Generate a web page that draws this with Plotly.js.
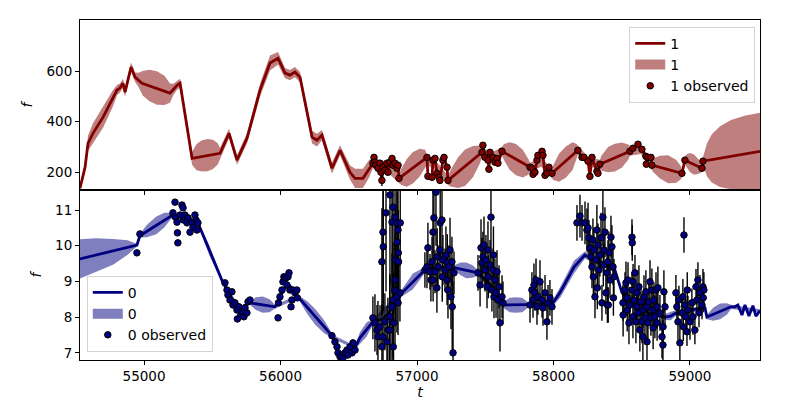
<!DOCTYPE html>
<html>
<head>
<meta charset="utf-8">
<script src="https://cdn.plot.ly/plotly-3.0.1.min.js"></script>
<style>html,body{margin:0;padding:0;background:#fff;}#chart{width:800px;height:400px;}</style>
</head>
<body>
<div id="chart"></div>
<script>
// ---------- axis ticks ----------
const xTickVals = [55000, 56000, 57000, 58000, 59000];
const xTickLabels = ["55000", "56000", "57000", "58000", "59000"];
const topYTicks = [200, 400, 600];
const botYTicks = [7, 8, 9, 10, 11];

// ---------- series "1" (top) ----------
// model mean at prediction-only times
const topPredT = [54531,54568,54590,54626,54700,54773,54802,54824,54846,54861,54905,54934,54985,55190,55242,55264,55352,55557,55623,55681,55755,55850,55923,55982,56033,56069,56106,56143,56231,56267,56304,56377,56436,56509,56546,56604,56670,59513];
const topPredF = [137,220,315,354,418,493,525,533,552,517,616,576,552,513,544,552,255,275,354,248,335,525,632,651,592,584,596,576,339,327,347,216,287,200,176,176,228,283];
// confidence band: time, centre, half width
const topBandT = [54531,54568,54590,54626,54700,54773,54802,54824,54846,54861,54905,54934,54960,54990,55040,55095,55150,55190,55215,55242,55264,55300,55352,55385,55425,55465,55505,55540,55557,55623,55681,55755,55850,55923,55982,56033,56069,56106,56143,56231,56267,56304,56377,56436,56509,56546,56604,56650,56677,56770,56868,56885,56925,56970,57020,57060,57073,57150,57227,57245,57300,57352,57410,57460,57476,57550,57623,57638,57680,57725,57775,57815,57828,57910,57989,58000,58040,58090,58140,58170,58179,58260,58340,58352,58400,58450,58500,58548,58560,58640,58721,58732,58780,58840,58900,58935,58941,58963,58975,59000,59030,59065,59088,59095,59110,59124,59160,59220,59300,59400,59513];
const topBandMid = [137,220,315,354,418,493,525,533,552,517,616,576,565,552,543,533,524,513,528,544,552,440,255,260,265,268,271,273,275,354,248,335,525,632,651,592,584,596,576,339,327,347,216,287,200,176,176,215,236,225,176,182,198,218,238,254,250,220,168,176,198,218,242,270,279,260,283,280,264,250,234,222,220,240,196,200,218,240,264,282,287,240,232,236,250,258,268,280,283,290,228,228,220,212,204,198,196,248,246,238,230,222,216,244,247,249,255,262,270,277,283];
const topBandHalf = [15,20,30,40,42,32,20,18,18,18,18,18,28,48,62,66,58,38,22,18,18,18,25,52,62,64,58,42,22,18,18,20,25,30,25,20,20,20,20,25,25,20,22,20,28,38,38,35,20,18,18,32,55,62,55,35,20,18,18,32,60,72,62,36,20,18,18,32,55,62,55,32,18,18,18,30,55,62,55,30,18,18,18,30,50,55,50,30,18,18,18,28,45,55,45,25,15,15,25,38,40,28,15,15,40,65,95,120,137,147,152];
// observations [t, f, error]
const topObs1 = [[56677,236,8],[56685,259,8],[56692,240,8],[56699,228,8],[56714,216,8],[56729,236,8],[56736,200,8],[56743,168,22],[56751,220,8],[56765,208,8],[56780,236,8],[56787,200,8],[56802,240,8],[56817,255,8],[56824,228,8],[56839,236,8],[56853,216,8],[56861,228,8],[56868,176,10]];
const topObs2 = [[57073,259,8],[57080,184,8],[57110,180,8],[57117,248,8],[57132,255,8],[57146,196,8],[57161,180,8],[57168,168,8],[57190,248,8],[57198,259,8],[57220,220,8],[57227,168,8]];
const topObs3 = [[57476,279,8],[57483,307,8],[57498,259,8],[57520,248,8],[57527,212,8],[57535,279,8],[57557,259,8],[57571,240,8],[57586,255,8],[57593,236,8],[57623,283,8]];
const topObs4 = [[57828,220,8],[57842,216,8],[57850,192,8],[57864,200,8],[57879,248,8],[57886,267,8],[57916,283,8],[57923,267,8],[57938,188,8],[57952,196,8],[57967,220,8],[57989,196,8]];
const topObs5 = [[58179,287,8],[58209,259,8],[58223,259,8],[58253,244,8],[58267,184,10],[58282,259,8],[58318,204,8],[58326,196,8],[58340,232,8]];
const topObs6 = [[58560,283,8],[58582,295,8],[58619,311,8],[58648,291,8],[58677,263,8],[58680,232,8],[58692,259,8],[58714,259,8],[58721,228,8]];
const topObs7 = [[58941,196,8],[58963,248,8],[59088,216,8],[59095,244,8]];

// ---------- series "0" (bottom) ----------
const botLineT = [54531,54948,54970,55210,55300,55395,55579,55640,55700,55776,55960,56000,56050,56100,56128,56384,56420,56470,56546,56582,56677,56750,56830,56890,57058,57160,57278,57447,57540,57630,57813,57900,57996,58050,58150,58230,58300,58450,58502,58600,58700,58817,58860,58890,59000,59110,59124,59300,59329,59351,59381,59403,59432,59461,59483,59513];
const botLineF = [9.63,10.02,10.28,10.86,10.80,10.64,8.96,8.55,8.25,8.40,8.29,8.60,8.95,8.75,8.57,7.45,7.05,6.92,7.15,7.42,7.87,7.95,8.30,8.68,9.32,9.40,9.38,9.24,8.90,8.34,8.34,8.36,8.40,8.70,9.40,9.74,9.60,9.32,8.68,8.30,8.10,8.00,8.03,8.10,8.20,8.26,8.00,8.29,8.29,8.34,8.06,8.34,8.03,8.32,8.03,8.18];
const botBandT = [54531,54650,54773,54880,54935,54948,54970,55020,55090,55150,55200,55300,55395,55480,55579,55700,55776,55820,55870,55920,55960,56128,56200,56256,56320,56384,56546,56582,56630,56677,56890,56970,57058,57278,57320,57360,57405,57447,57630,57680,57720,57770,57813,57996,58050,58150,58230,58450,58502,58817,58860,58890,59110,59124,59170,59220,59270,59300,59513];
const botBandMid = [9.63,9.74,9.83,9.95,10.00,10.02,10.28,10.41,10.57,10.72,10.84,10.80,10.64,9.86,8.96,8.25,8.40,8.38,8.35,8.32,8.29,8.57,8.25,8.00,7.73,7.45,7.15,7.42,7.65,7.87,8.68,9.00,9.32,9.38,9.35,9.31,9.28,9.24,8.34,8.34,8.34,8.34,8.34,8.40,8.70,9.40,9.74,9.32,8.68,8.00,8.03,8.10,8.26,8.00,8.08,8.16,8.23,8.29,8.18];
const botBandHalf = [0.55,0.47,0.36,0.20,0.07,0.04,0.05,0.17,0.25,0.20,0.08,0.05,0.05,0.14,0.05,0.05,0.05,0.18,0.23,0.18,0.05,0.05,0.18,0.22,0.18,0.05,0.05,0.16,0.20,0.08,0.10,0.22,0.08,0.08,0.18,0.22,0.18,0.08,0.08,0.20,0.22,0.20,0.08,0.08,0.15,0.18,0.10,0.08,0.08,0.08,0.12,0.08,0.06,0.06,0.18,0.22,0.16,0.06,0.04];
// observations [t, f, error]
const botObsEarly = [[54948,9.80,0.08],[54970,10.33,0.07]];
const botObs1 = [[55212,10.92,0.06],[55227,11.22,0.06],[55230,10.80,0.06],[55242,10.66,0.06],[55245,10.36,0.06],[55248,10.08,0.06],[55264,10.86,0.06],[55278,11.14,0.06],[55286,11.06,0.06],[55290,10.72,0.06],[55300,10.86,0.06],[55315,10.64,0.06],[55322,10.78,0.06],[55337,10.38,0.06],[55352,10.66,0.06],[55359,10.52,0.06],[55373,10.86,0.06],[55381,10.72,0.06],[55388,10.44,0.06],[55395,10.64,0.06]];
const botObs2 = [[55593,8.96,0.06],[55608,8.76,0.06],[55615,8.62,0.06],[55630,8.48,0.06],[55644,8.71,0.06],[55652,8.34,0.06],[55666,8.40,0.06],[55681,8.20,0.06],[55684,7.95,0.06],[55696,8.29,0.06],[55710,8.06,0.06],[55725,8.15,0.06],[55732,8.01,0.06],[55740,8.26,0.06],[55754,8.12,0.06],[55762,8.43,0.06],[55776,8.48,0.06]];
const botObs3 = [[55982,7.98,0.07],[55985,8.40,0.07],[55996,8.57,0.07],[56011,8.76,0.07],[56018,8.99,0.07],[56025,9.13,0.07],[56040,9.10,0.07],[56047,8.90,0.07],[56055,9.13,0.07],[56062,9.24,0.07],[56069,8.76,0.07],[56077,8.29,0.07],[56084,8.48,0.07],[56091,8.76,0.07],[56106,8.68,0.07],[56120,8.76,0.07],[56123,8.54,0.07]];
const botObs4 = [[56377,7.48,0.08],[56399,7.31,0.08],[56414,7.17,0.08],[56421,7.00,0.08],[56436,6.89,0.08],[56450,6.94,0.08],[56458,6.86,0.08],[56472,7.00,0.08],[56487,7.08,0.08],[56494,6.94,0.08],[56509,7.17,0.08],[56524,7.00,0.08],[56531,7.28,0.08],[56546,7.08,0.08]];
const botObsA = [[56677,7.98,0.6],[56692,7.84,0.8],[56707,7.64,0.7],[56714,7.45,1.0],[56729,7.73,0.6],[56743,7.17,1.2],[56743,9.55,1.5],[56751,7.45,0.9],[56751,10.38,2.0],[56753,9.97,1.8],[56765,7.87,0.8],[56773,10.92,2.2],[56780,7.31,1.0],[56787,7.64,0.9],[56800,7.64,1.5],[56802,8.01,1.2],[56802,11.42,2.5],[56817,8.29,1.5],[56817,10.66,2.0],[56824,8.48,1.6],[56824,11.08,2.0],[56826,7.17,1.2],[56828,7.84,1.4],[56839,8.76,1.6],[56839,10.80,1.8],[56841,9.60,1.5],[56843,9.04,1.2],[56853,8.57,1.0],[56853,10.64,1.5],[56855,10.10,1.4],[56861,8.40,0.9],[56861,10.44,1.3],[56863,9.80,1.2],[56865,9.55,1.0],[56875,8.68,0.8],[56877,10.64,1.2]];
const botObsB = [[57058,9.32,0.5],[57073,9.41,0.6],[57080,9.94,0.7],[57095,9.27,0.5],[57102,9.04,0.6],[57110,9.55,0.7],[57117,10.38,1.2],[57118,9.04,0.6],[57124,10.78,1.3],[57132,9.27,0.6],[57139,11.50,1.5],[57146,8.82,0.7],[57148,9.69,0.8],[57154,9.41,0.6],[57168,9.88,0.8],[57170,10.64,1.0],[57183,10.72,1.2],[57185,9.13,0.7],[57190,9.60,0.7],[57205,9.32,0.6],[57212,9.74,0.8],[57220,9.04,0.7],[57222,9.52,0.8],[57227,8.76,0.8],[57234,9.41,0.6],[57242,9.88,0.9],[57249,8.57,0.9],[57256,9.55,0.7],[57258,8.29,1.2],[57264,7.00,2.0],[57271,9.24,0.6]];
const botObsC = [[57447,9.24,0.5],[57462,8.90,0.6],[57469,9.94,0.8],[57476,9.52,0.7],[57483,9.69,0.7],[57491,10.02,0.8],[57498,9.32,0.6],[57505,9.60,0.7],[57513,8.85,0.6],[57520,9.88,0.8],[57523,9.13,0.6],[57535,9.46,0.7],[57542,10.80,1.5],[57549,8.76,0.6],[57557,9.32,0.6],[57560,9.74,0.8],[57564,8.57,0.6],[57571,9.04,0.6],[57579,8.68,0.7],[57586,9.27,0.6],[57593,8.48,0.7],[57601,8.85,0.6],[57608,7.84,0.8],[57623,8.57,0.6],[57630,8.40,0.6]];
const botObsD = [[57828,8.34,0.5],[57842,8.76,0.5],[57850,8.48,0.5],[57857,8.90,0.6],[57864,8.68,0.5],[57872,9.04,0.6],[57879,8.29,0.5],[57886,8.57,0.5],[57901,8.99,0.6],[57916,8.48,0.5],[57923,8.26,0.5],[57938,8.68,0.5],[57952,7.87,0.5],[57960,8.40,0.5],[57974,8.54,0.5],[57989,8.29,0.5]];
const botObsE = [[58172,10.64,0.5],[58194,10.83,0.6],[58209,10.64,0.5],[58231,10.64,0.6],[58245,10.44,0.6],[58253,10.50,0.7],[58260,10.22,0.5],[58267,9.94,0.6],[58275,9.69,0.5],[58282,9.41,0.6],[58289,10.16,0.6],[58292,9.13,0.5],[58296,9.88,0.6],[58304,8.57,0.6],[58311,9.60,0.5],[58318,10.44,0.7],[58321,8.82,0.6],[58326,10.02,0.6],[58333,9.32,0.5],[58340,9.74,0.6],[58348,10.22,0.7],[58355,8.40,0.5],[58362,10.80,0.8],[58365,9.46,0.6],[58370,9.88,0.6],[58377,10.38,0.7],[58384,8.68,0.6],[58392,9.24,0.5],[58395,8.34,0.5],[58399,9.55,0.6],[58401,8.34,0.5],[58406,9.80,0.6],[58414,9.04,0.5],[58421,10.24,0.6],[58428,9.97,0.6],[58436,9.41,0.5],[58439,8.54,0.5],[58443,9.13,0.5]];
const botObsF = [[58509,8.40,0.5],[58510,8.06,0.6],[58524,8.76,0.5],[58531,8.96,0.6],[58538,8.54,0.5],[58540,8.20,0.6],[58546,9.04,0.5],[58553,7.84,0.6],[58560,8.34,0.5],[58575,8.76,0.5],[58575,10.24,0.5],[58577,10.08,0.5],[58582,8.01,0.6],[58583,8.99,0.5],[58590,8.48,0.6],[58597,9.24,0.5],[58604,7.87,0.6],[58611,8.29,0.5],[58612,8.68,0.6],[58619,8.12,0.5],[58626,8.85,0.6],[58633,7.64,0.6],[58641,8.43,0.5],[58648,7.87,0.6],[58655,7.45,0.7],[58656,8.20,0.5],[58663,8.57,0.6],[58670,7.98,0.5],[58677,8.71,0.6],[58685,7.31,0.7],[58686,8.29,0.5],[58692,7.84,0.6],[58699,8.43,0.5],[58707,8.99,0.6],[58714,7.98,0.5],[58721,8.76,0.6],[58729,8.20,0.5],[58730,7.70,0.6],[58736,8.48,0.5],[58743,8.01,0.6],[58751,8.76,0.5],[58758,8.29,0.6],[58759,7.84,0.5],[58765,8.82,0.6],[58780,8.12,0.5],[58795,7.45,0.6],[58802,7.22,0.7],[58803,7.73,0.5],[58809,8.71,0.6],[58817,8.29,0.5]];
const botObsG = [[58897,8.68,0.5],[58904,8.29,0.4],[58912,7.87,0.5],[58919,8.48,0.4],[58926,7.28,0.5],[58941,8.12,0.4],[58948,8.57,0.5],[58951,7.73,0.4],[58956,10.30,0.5],[58963,8.34,0.4],[58970,8.01,0.5],[58978,7.59,0.4],[58980,8.76,0.5],[58985,8.20,0.4],[59000,7.87,0.5],[59014,8.40,0.4],[59022,8.01,0.5],[59036,7.64,0.4],[59044,8.85,0.5],[59051,8.48,0.4],[59058,9.04,0.5],[59066,8.12,0.4],[59073,8.68,0.5],[59088,8.34,0.4],[59095,8.85,0.5],[59097,8.54,0.4],[59102,8.76,0.5]];

// ---------- build traces ----------
const topColor = '#800000', topFill = 'rgba(128,0,0,0.5)';
const botColor = '#000080', botFill = 'rgba(0,0,128,0.5)';

const topObs = [].concat(topObs1, topObs2, topObs3, topObs4, topObs5, topObs6, topObs7);
const botObs = [].concat(botObsEarly, botObs1, botObs2, botObs3, botObs4, botObsA, botObsB, botObsC, botObsD, botObsE, botObsF, botObsG);

// top mean line passes through prediction times and observed times
const topLinePts = topPredT.map((t, i) => [t, topPredF[i]]).concat(topObs.map(r => [r[0], r[1]]))
  .sort((a, b) => a[0] - b[0]);

function band(T, M, H, xa, ya, color, name, legend) {
  return [
    {x: T, y: M.map((m, i) => m - H[i]), xaxis: xa, yaxis: ya, mode: 'lines',
     line: {width: 0, color: color}, showlegend: false, hoverinfo: 'skip'},
    {x: T, y: M.map((m, i) => m + H[i]), xaxis: xa, yaxis: ya, mode: 'lines', fill: 'tonexty',
     fillcolor: color, line: {width: 0, color: color}, showlegend: false, hoverinfo: 'skip'},
    // legend swatch for the band (patch-like)
    {x: [null], y: [null], xaxis: xa, yaxis: ya, mode: 'lines', line: {width: 10, color: color},
     name: name, legend: legend, legendrank: 2, hoverinfo: 'skip'}
  ];
}

const errStyle = {type: 'data', color: 'black', thickness: 1.4, width: 0};

const traces = [].concat(
  band(topBandT, topBandMid, topBandHalf, 'x', 'y', topFill, '1', 'legend'),
  [{x: topLinePts.map(p => p[0]), y: topLinePts.map(p => p[1]), xaxis: 'x', yaxis: 'y', mode: 'lines',
    line: {color: topColor, width: 2.8}, name: '1', legend: 'legend', legendrank: 1},
   {x: topObs.map(r => r[0]), y: topObs.map(r => r[1]), xaxis: 'x', yaxis: 'y', mode: 'markers',
    marker: {color: topColor, size: 6.5, line: {color: 'black', width: 1}},
    error_y: Object.assign({array: topObs.map(r => r[2])}, errStyle),
    name: '1 observed', legend: 'legend', legendrank: 3}],
  band(botBandT, botBandMid, botBandHalf, 'x2', 'y2', botFill, '0', 'legend2'),
  [{x: botLineT, y: botLineF, xaxis: 'x2', yaxis: 'y2', mode: 'lines',
    line: {color: botColor, width: 2.8}, name: '0', legend: 'legend2', legendrank: 1},
   {x: botObs.map(r => r[0]), y: botObs.map(r => r[1]), xaxis: 'x2', yaxis: 'y2', mode: 'markers',
    marker: {color: botColor, size: 6.5, line: {color: 'black', width: 1}},
    error_y: Object.assign({array: botObs.map(r => r[2])}, errStyle),
    name: '0 observed', legend: 'legend2', legendrank: 3}]
);

const axBase = {showline: true, mirror: true, linecolor: 'black', linewidth: 1, showgrid: false, zeroline: false,
  ticks: 'outside', ticklen: 4, tickwidth: 1, tickcolor: 'black', tickfont: {size: 13.5, color: 'black'}};
const legBase = {bgcolor: 'rgba(255,255,255,0.85)', bordercolor: '#d4d4d4', borderwidth: 1,
  font: {size: 14, color: 'black'}, traceorder: 'normal'};

const layout = {
  width: 800, height: 400,
  margin: {l: 80, r: 40, t: 20, b: 40},
  paper_bgcolor: 'white', plot_bgcolor: 'white',
  font: {family: 'DejaVu Sans, sans-serif', size: 14, color: 'black'},
  showlegend: true,
  xaxis: Object.assign({}, axBase, {domain: [0, 1], anchor: 'y', range: [54531, 59513],
    tickvals: xTickVals, ticktext: xTickLabels, showticklabels: false}),
  yaxis: Object.assign({}, axBase, {domain: [0.5, 1], anchor: 'x', range: [130, 802], tickvals: topYTicks,
    title: {text: '<i>f</i>', standoff: 10, font: {size: 14}}}),
  xaxis2: Object.assign({}, axBase, {domain: [0, 1], anchor: 'y2', range: [54531, 59513],
    tickvals: xTickVals, ticktext: xTickLabels, title: {text: '<i>t</i>', standoff: 5, font: {size: 14}}}),
  yaxis2: Object.assign({}, axBase, {domain: [0, 0.5], anchor: 'x2', range: [6.8, 11.56], tickvals: botYTicks,
    title: {text: '<i>f</i>', standoff: 10, font: {size: 14}}}),
  legend: Object.assign({}, legBase, {x: 0.993, xanchor: 'right', y: 0.98, yanchor: 'top'}),
  legend2: Object.assign({}, legBase, {x: 0.01, xanchor: 'left', y: 0.024, yanchor: 'bottom'})
};

Plotly.newPlot('chart', traces, layout, {displayModeBar: false, staticPlot: true});
</script>
</body>
</html>
